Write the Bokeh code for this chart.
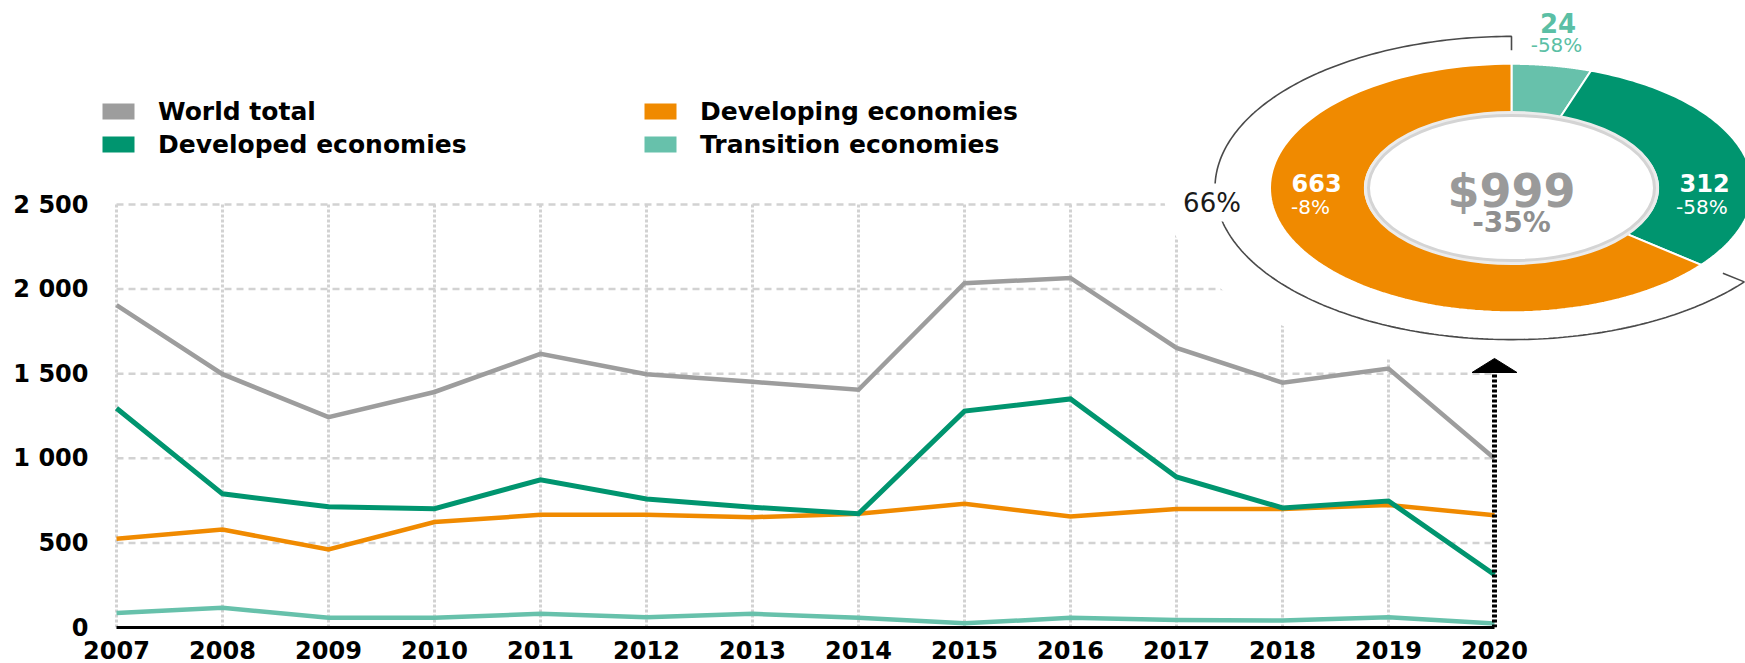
import numpy as np
from bokeh.plotting import figure
from bokeh.models import Range1d, FixedTicker, Legend, LegendItem, Label
from bokeh.core.properties import value
from bokeh.embed import file_html
from bokeh.resources import INLINE

# ------------------------------------------------------------------ data
years = list(range(2007, 2021))
world_total = [1905, 1497, 1243, 1392, 1617, 1497, 1452, 1405, 2035, 2066, 1652, 1447, 1530, 999]
developed   = [1296, 790, 714, 702, 873, 760, 711, 672, 1279, 1351, 890, 707, 748, 312]
developing  = [524, 579, 461, 623, 666, 666, 652, 672, 731, 656, 701, 701, 724, 663]
transition  = [85, 116, 57, 57, 81, 61, 81, 57, 25, 57, 45, 41, 61, 24]

series_names = ["World total", "Developed economies", "Developing economies", "Transition economies"]

y_ticks = [0, 500, 1000, 1500, 2000, 2500]
y_tick_labels = ["0", "500", "1 000", "1 500", "2 000", "2 500"]

donut_names = ["Transition economies", "Developed economies", "Developing economies"]
donut_values = [24, 312, 663]
donut_changes = ["-58%", "-58%", "-8%"]
donut_total = 999
donut_total_change = "-35%"

# ------------------------------------------------------------------ style
C_WORLD = "#9d9d9d"
C_DEVED = "#00956f"
C_DEVING = "#f08a00"
C_TRANS = "#67c1ab"
C_GRID = "#d2d2d2"
FONT = "DejaVu Sans"

FRAME_W, FRAME_H = 1645, 627
LEFT = 100
PX_PER_YEAR = 106.0
PX_PER_UNIT = 423.0 / 2500.0
X0_PX = 16.0
x_start = years[0] - X0_PX / PX_PER_YEAR
x_end = x_start + FRAME_W / PX_PER_YEAR
y_end = FRAME_H / PX_PER_UNIT

# donut layout (pixel units, centre of donut as origin)
CX, CY = 1511.0 - LEFT, 187.5
R_OUT = (241.5, 124.2)
R_IN = (146.6, 74.2)
R_DISC = (143.0, 72.5)
R_ARC = (296.5, 151.6)
R_MASK = (348.0, 183.0)
MIN_SHARE = 0.055
TICK_FRAC = 0.908

ARROW_TOP = 1590
ARROW_BASE = 1507
ARROW_HALF_W = 22.5 / PX_PER_YEAR

p = figure(width=1745, height=663, frame_width=FRAME_W, frame_height=FRAME_H,
           x_range=Range1d(x_start, x_end), y_range=Range1d(0, y_end),
           output_backend="svg", toolbar_location=None, title=None,
           min_border_left=LEFT, min_border_right=0, min_border_top=0, min_border_bottom=36)
p.outline_line_color = None
p.xgrid.visible = False
p.ygrid.visible = False
p.background_fill_color = "white"
p.border_fill_color = "white"

p.extra_x_ranges = {"dx": Range1d(-CX, FRAME_W - CX)}
p.extra_y_ranges = {"dy": Range1d(-(FRAME_H - CY), CY)}

# axes
p.xaxis.ticker = FixedTicker(ticks=years)
p.xaxis.major_label_overrides = {y: str(y) for y in years}
p.xaxis.bounds = (years[0], years[-1])
p.xaxis.axis_line_color = "black"
p.xaxis.axis_line_width = 3
p.xaxis.major_tick_line_color = None
p.xaxis.minor_tick_line_color = None
p.xaxis.major_label_standoff = 7
p.xaxis.major_label_text_font = FONT
p.xaxis.major_label_text_font_style = "bold"
p.xaxis.major_label_text_font_size = "24px"
p.xaxis.major_label_text_color = "black"

p.yaxis.ticker = FixedTicker(ticks=y_ticks)
p.yaxis.major_label_overrides = dict(zip(y_ticks, y_tick_labels))
p.yaxis.axis_line_color = None
p.yaxis.major_tick_line_color = None
p.yaxis.minor_tick_line_color = None
p.yaxis.major_label_standoff = 6
p.yaxis.major_label_text_font = FONT
p.yaxis.major_label_text_font_style = "bold"
p.yaxis.major_label_text_font_size = "24px"
p.yaxis.major_label_text_color = "black"

# grid lines (bounded to the data span)
n_years = len(years)
p.segment(x0=years, y0=[y_ticks[0]] * n_years, x1=years, y1=[y_ticks[-1]] * n_years,
          line_color=C_GRID, line_width=3, line_dash="3 2")
p.segment(x0=[years[0]] * len(y_ticks), y0=y_ticks, x1=[years[-1]] * len(y_ticks), y1=y_ticks,
          line_color=C_GRID, line_width=2.5, line_dash="7 5")

# white area behind the donut
p.ellipse(x=[0], y=[0], width=[2 * R_MASK[0]], height=[2 * R_MASK[1]],
          fill_color="white", line_color=None, x_range_name="dx", y_range_name="dy")

# series lines
p.line(years, transition, line_color=C_TRANS, line_width=4.5, line_join="miter")
p.line(years, developing, line_color=C_DEVING, line_width=4.5, line_join="miter")
p.line(years, developed, line_color=C_DEVED, line_width=5, line_join="miter")
p.line(years, world_total, line_color=C_WORLD, line_width=4.5, line_join="miter")

# 2020 arrow
p.line(x=[years[-1], years[-1]], y=[0, ARROW_BASE], line_color="black", line_width=5, line_dash="3 2")
p.patch(x=[years[-1] - ARROW_HALF_W, years[-1] + ARROW_HALF_W, years[-1]],
        y=[ARROW_BASE, ARROW_BASE, ARROW_TOP], fill_color="black", line_color="black")

# donut
vals = np.array(donut_values, dtype=float)
shown = np.maximum(vals, MIN_SHARE * vals.sum())
edges = np.concatenate([[0.0], np.cumsum(shown / shown.sum())]) * 2 * np.pi
xs, ys = [], []
for i in range(len(vals)):
    th = np.linspace(edges[i], edges[i + 1], 120)
    xs.append(np.concatenate([R_OUT[0] * np.sin(th), R_IN[0] * np.sin(th[::-1])]))
    ys.append(np.concatenate([R_OUT[1] * np.cos(th), R_IN[1] * np.cos(th[::-1])]))
p.patches(xs=xs, ys=ys, fill_color=[C_TRANS, C_DEVED, C_DEVING], line_color="white",
          line_width=2, x_range_name="dx", y_range_name="dy")

p.ellipse(x=[0], y=[0], width=[2 * R_DISC[0] + 3], height=[2 * R_DISC[1] + 3],
          fill_color="white", line_color="#ececec", line_width=6, x_range_name="dx", y_range_name="dy")
p.ellipse(x=[0], y=[0], width=[2 * R_DISC[0]], height=[2 * R_DISC[1]],
          fill_color="white", line_color="#d4d4d4", line_width=3, x_range_name="dx", y_range_name="dy")

# bracket arc spanning the developing-economies slice
th = np.linspace(edges[2], edges[3], 240)
ax = R_ARC[0] * np.sin(th)
ay = R_ARC[1] * np.cos(th)
ax = np.concatenate([[TICK_FRAC * ax[0]], ax, [TICK_FRAC * ax[-1]]])
ay = np.concatenate([[TICK_FRAC * ay[0]], ay, [TICK_FRAC * ay[-1]]])
p.line(ax, ay, line_color="#4a4a4a", line_width=1.6, x_range_name="dx", y_range_name="dy")

share = f"{round(100 * donut_values[2] / donut_total)}%"
p.add_layout(Label(x=-R_ARC[0] - 3, y=-14.5, x_range_name="dx", y_range_name="dy", text=share,
                   text_align="center", text_baseline="middle", text_font=FONT,
                   text_font_size="26px", text_color="#1a1a1a",
                   background_fill_color="white", padding=4))

# donut texts
p.text(x=[0], y=[-2.6], text=[f"${donut_total}"], x_range_name="dx", y_range_name="dy",
       text_font=value(FONT), text_font_style="bold", text_font_size="46px",
       text_color="#9a9a9a", text_align="center", text_baseline="middle")
p.text(x=[0], y=[-34.5], text=[donut_total_change], x_range_name="dx", y_range_name="dy",
       text_font=value(FONT), text_font_style="bold", text_font_size="28px",
       text_color="#8f8f8f", text_align="center", text_baseline="middle")

# developing / developed (inside ring, white)
p.text(x=[-220, 168], y=[5.5, 5.5], text=[str(donut_values[2]), str(donut_values[1])],
       x_range_name="dx", y_range_name="dy", text_font=value(FONT), text_font_style="bold",
       text_font_size="24px", text_color="white", text_align="left", text_baseline="middle")
p.text(x=[-220.5, 164.5], y=[-19.0, -19.0], text=[donut_changes[2], donut_changes[1]],
       x_range_name="dx", y_range_name="dy", text_font=value(FONT),
       text_font_size="20px", text_color="white", text_align="left", text_baseline="middle")
# transition (outside, teal)
p.text(x=[46.6], y=[165.0], text=[str(donut_values[0])], x_range_name="dx", y_range_name="dy",
       text_font=value(FONT), text_font_style="bold", text_font_size="26px",
       text_color="#5bbfa5", text_align="center", text_baseline="middle")
p.text(x=[45], y=[143.5], text=[donut_changes[0]], x_range_name="dx", y_range_name="dy",
       text_font=value(FONT), text_font_size="20px",
       text_color="#5bbfa5", text_align="center", text_baseline="middle")

# legends (square swatches; swatch renderers hold no drawable point)
swatches = {}
for name, col in zip(series_names, [C_WORLD, C_DEVED, C_DEVING, C_TRANS]):
    swatches[name] = p.quad(left=[np.nan], right=[np.nan], top=[np.nan], bottom=[np.nan],
                            fill_color=col, line_color=None)


def make_legend(names, loc):
    leg = Legend(items=[LegendItem(label=n, renderers=[swatches[n]]) for n in names],
                 location=loc, orientation="vertical",
                 glyph_width=40, glyph_height=20, label_standoff=20, spacing=4,
                 label_height=29, padding=0, margin=0,
                 border_line_color=None, background_fill_alpha=0,
                 label_text_font=FONT, label_text_font_style="bold",
                 label_text_font_size="25px", label_text_color="black")
    return leg


p.add_layout(make_legend(series_names[:2], (-2, FRAME_H - 158.5)))
p.add_layout(make_legend(series_names[2:], (540, FRAME_H - 158.5)))

open("out.html", "w").write(file_html(p, INLINE))
